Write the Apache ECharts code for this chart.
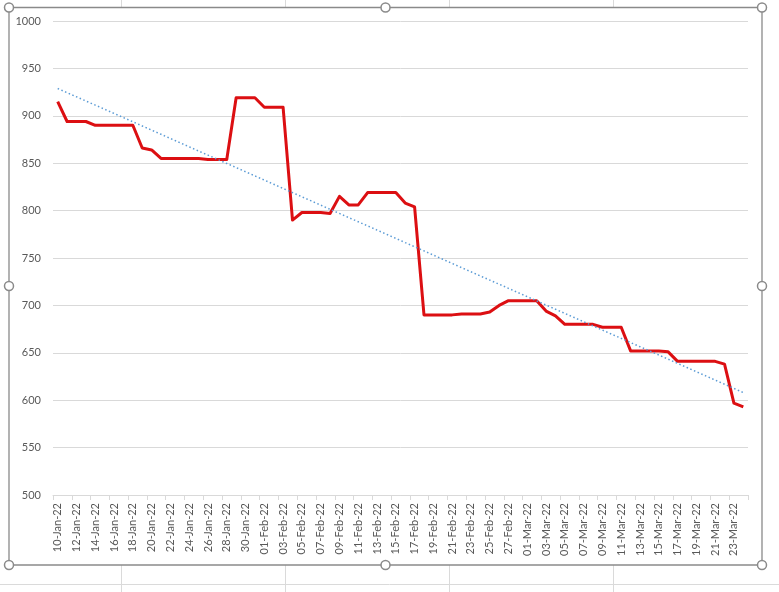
<!DOCTYPE html>
<html>
<head>
<meta charset="utf-8">
<script src="https://cdn.jsdelivr.net/npm/echarts@6/dist/echarts.min.js"></script>
<style>
html,body{margin:0;padding:0;background:#fff;}
#c{width:779px;height:592px;}
</style>
</head>
<body>
<div id="c"></div>
<script>
var dates = [
 '10-Jan-22','11-Jan-22','12-Jan-22','13-Jan-22','14-Jan-22','15-Jan-22','16-Jan-22','17-Jan-22','18-Jan-22','19-Jan-22',
 '20-Jan-22','21-Jan-22','22-Jan-22','23-Jan-22','24-Jan-22','25-Jan-22','26-Jan-22','27-Jan-22','28-Jan-22','29-Jan-22',
 '30-Jan-22','31-Jan-22','01-Feb-22','02-Feb-22','03-Feb-22','04-Feb-22','05-Feb-22','06-Feb-22','07-Feb-22','08-Feb-22',
 '09-Feb-22','10-Feb-22','11-Feb-22','12-Feb-22','13-Feb-22','14-Feb-22','15-Feb-22','16-Feb-22','17-Feb-22','18-Feb-22',
 '19-Feb-22','20-Feb-22','21-Feb-22','22-Feb-22','23-Feb-22','24-Feb-22','25-Feb-22','26-Feb-22','27-Feb-22','28-Feb-22',
 '01-Mar-22','02-Mar-22','03-Mar-22','04-Mar-22','05-Mar-22','06-Mar-22','07-Mar-22','08-Mar-22','09-Mar-22','10-Mar-22',
 '11-Mar-22','12-Mar-22','13-Mar-22','14-Mar-22','15-Mar-22','16-Mar-22','17-Mar-22','18-Mar-22','19-Mar-22','20-Mar-22',
 '21-Mar-22','22-Mar-22','23-Mar-22','24-Mar-22'
];
var values = [
 915,894,894,894,890,890,890,890,890,866,
 864,855,855,855,855,855,854,854,854,919,
 919,919,909,909,909,790,798,798,798,797,
 815,806,806,819,819,819,819,808,804,690,
 690,690,690,691,691,691,693,700,705,705,
 705,705,694,689,680,680,680,680,677,677,
 677,652,652,652,652,651,641,641,641,641,
 641,638,597,593
];
var yMin = 500, yMax = 1000, yStep = 50;

// linear trendline (least squares) computed from the values
var n = values.length, sx = 0, sy = 0, sxy = 0, sxx = 0;
for (var i = 0; i < n; i++) { sx += i; sy += values[i]; sxy += i * values[i]; sxx += i * i; }
var slope = (n * sxy - sx * sy) / (n * sxx - sx * sx);
var icpt = (sy - slope * sx) / n;
var trend = values.map(function (v, i) { return +(icpt + slope * i).toFixed(2); });

var chart = echarts.init(document.getElementById('c'), null, {renderer: 'canvas'});
var fam = 'Lato, "Open Sans", sans-serif';
var sheetLine = '#dadada';
var frameCol = '#8a8a8a';
function handle(x, y) {
  return {type: 'circle', shape: {cx: x, cy: y, r: 4.5}, style: {fill: '#fff', stroke: frameCol, lineWidth: 1.5}, z: 100, silent: true};
}
function vline(x) { return {type: 'line', shape: {x1: x, y1: 0, x2: x, y2: 592}, style: {stroke: sheetLine, lineWidth: 1}, z: -30, silent: true}; }
function hline(y) { return {type: 'line', shape: {x1: 0, y1: y, x2: 779, y2: y}, style: {stroke: sheetLine, lineWidth: 1}, z: -30, silent: true}; }

chart.setOption({
  animation: false,
  backgroundColor: '#fff',
  textStyle: {fontFamily: fam},
  graphic: [
    vline(121.5), vline(285.5), vline(449.5), vline(613.5), hline(584.5),
    {type: 'rect', shape: {x: 9, y: 7.5, width: 753, height: 557.5}, style: {fill: '#fff', stroke: frameCol, lineWidth: 1.3}, z: -20, silent: true},
    handle(9, 7.5), handle(385.5, 7.5), handle(762, 7.5),
    handle(9, 286), handle(762, 286),
    handle(9, 565), handle(385.5, 565), handle(762, 565)
  ],
  grid: {left: 53, right: 31, top: 21, bottom: 97, containLabel: false},
  xAxis: {
    type: 'category',
    data: dates,
    boundaryGap: true,
    axisLine: {show: true, lineStyle: {color: '#d9d9d9', width: 1}},
    axisTick: {show: true, interval: 1, length: 5, lineStyle: {color: '#d9d9d9'}},
    axisLabel: {interval: 1, rotate: 90, margin: 8, color: '#595959', fontSize: 11, fontFamily: fam},
    splitLine: {show: false}
  },
  yAxis: {
    type: 'value',
    min: yMin, max: yMax, interval: yStep,
    axisLine: {show: false},
    axisTick: {show: false},
    axisLabel: {color: '#595959', fontSize: 11, fontFamily: fam, margin: 12, formatter: function (v) { return String(v); }},
    splitLine: {show: true, lineStyle: {color: '#d9d9d9', width: 1}}
  },
  series: [
    {
      name: 'Price', type: 'line', data: values, symbol: 'none', smooth: false,
      lineStyle: {color: '#dc0f12', width: 3, join: 'round'}, z: 3
    },
    {
      name: 'Trend', type: 'line', data: trend, symbol: 'none',
      lineStyle: {color: '#5b9bd5', width: 1.5, type: [1.5, 2.5]}, z: 4
    }
  ]
});
</script>
</body>
</html>
